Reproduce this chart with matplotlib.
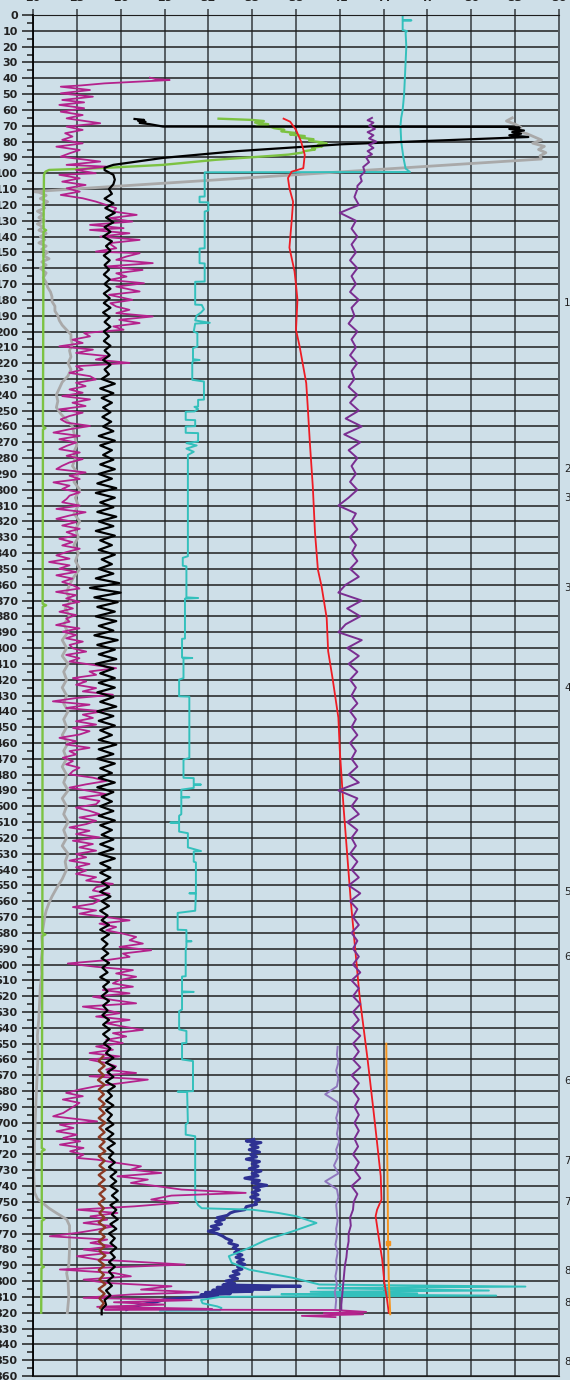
import numpy as np  # Importa numpy para manejar arreglos
import matplotlib  # Importa matplotlib
matplotlib.use("Agg")  # Sin pantalla, solo guardar archivo
import matplotlib.pyplot as plt  # Importa pyplot para graficar

# Marcas del eje superior (escala 20-56) y etiquetas laterales de la derecha
x_ticks = [20, 23, 26, 29, 32, 35, 38, 41, 44, 47, 50, 53, 56]
marca_prof = [181.7, 287, 305, 362, 425, 554.4, 595.3, 673.4, 724, 749.8, 793.4, 813.6, 851]
marca_txt = ["1", "2", "3", "3", "4", "5", "6", "6", "7", "7", "8", "8", "8"]

mag_top_prof = [39.6, 40.5, 41.1, 42.0, 43.2, 44.5, 45.3, 47.4, 49.5, 51.6, 53.7, 55.2, 56.8, 58.9, 61.1, 63.2, 65.3,
                68.4, 70.5, 72.6, 74.7, 76.8, 78.9, 81.1, 83.2, 85.3, 87.4, 89.5, 92.6, 94.7, 95.8, 97.9, 100.0,
                101.0, 103.2, 105.3, 107.4, 109.5, 111.6, 113.7, 115.8, 117.9, 120.0, 122.1, 124.2, 126.3, 128.4,
                130.5, 132.6, 134.7, 135.8, 137.9, 140.0, 142.1, 144.2, 147.4, 149.5, 150.5, 152.6, 154.7, 156.8,
                158.9, 161.1, 163.2, 165.3, 167.4, 169.5, 171.6, 174.7, 176.8]
mag_top_val = [28.0, 28.4, 29.35, 27.5, 24.9, 23.3, 21.9, 23.9, 21.9, 24.1, 22.0, 23.5, 21.8, 23.5, 21.9, 23.4, 22.3,
               24.6, 22.3, 23.4, 22.2, 22.7, 22.0, 23.4, 21.6, 23.2, 22.5, 21.9, 24.6, 22.3, 25.0, 22.95, 24.3,
               21.8, 23.2, 22.0, 23.6, 22.3, 23.2, 21.9, 23.4, 24.3, 25.0, 25.7, 25.5, 27.1, 25.2,
               26.8, 23.9, 26.2, 23.9, 26.6, 24.6, 27.3, 25.2, 25.7, 24.3, 27.3, 26.4, 25.7, 28.2,
               25.0, 27.5, 25.7, 26.4, 25.2, 27.6, 25.7, 27.3, 25.2]
# tramo central, muestreado cada ~2.1 m entre 180 y 687.4
mag_mid_val = [26.8, 25.3, 25.7, 26.6, 25.7, 28.2, 25.9, 27.3, 25.5, 26.2,
               23.5, 23.9, 22.7, 23.4, 21.8, 24.1, 22.95, 25.2, 24.3, 26.6,
               22.95, 23.4, 22.5, 23.9, 24.3, 22.95, 23.6, 22.5, 23.4, 22.0,
               23.9, 22.7, 23.6, 21.8, 23.4, 22.5, 21.9, 22.3, 23.9, 22.5,
               21.4, 23.2, 21.8, 22.95, 22.3, 21.8, 23.2, 22.3, 23.4, 22.5,
               22.0, 21.6, 23.6, 22.5, 23.2, 21.4, 22.5, 22.0, 23.2, 22.5,
               22.3, 22.0, 23.2, 21.6, 23.6, 22.5, 21.6, 22.95, 22.0, 23.2,
               22.3, 22.95, 21.8, 22.7, 22.0, 23.2, 22.3, 21.6, 22.5, 21.1,
               22.5, 21.8, 22.95, 21.6, 22.7, 22.0,
               22.73, 23.18, 21.58, 22.95, 22.27, 23.18, 22.04, 22.73, 21.81, 22.95,
               22.27, 22.5, 21.58, 23.18, 22.04, 22.95, 22.27, 23.41, 22.5, 22.73,
               23.64, 22.27, 23.18, 22.5, 24.1, 25.69, 23.87, 24.32, 22.73, 23.64,
               22.95, 24.32, 23.41, 25.47, 22.95, 21.36, 23.87, 22.27, 24.78, 23.41,
               24.1, 22.95, 24.32, 22.73, 23.87, 23.18, 21.81, 22.95, 22.27, 23.87,
               22.5, 22.95, 22.04, 22.73, 22.27, 23.18, 22.73, 22.5, 24.1, 25.01,
               23.64, 22.5, 23.87, 25.01, 23.18, 24.55, 24.32, 22.95, 23.87, 24.55,
               23.18, 24.32, 23.64, 22.5, 23.87, 22.95, 24.55, 22.73, 24.1, 23.18,
               24.32, 22.95, 23.64, 22.5, 23.87, 22.95,
               23.64, 22.95, 24.32, 23.64, 25.47, 24.32, 24.1, 25.24, 23.87, 24.55,
               24.1, 22.73, 24.32, 23.18, 25.01, 26.61, 24.55, 25.69, 25.01, 26.15,
               27.06, 26.61, 27.52, 25.92, 28.09, 26.15, 26.61, 25.01, 22.38, 24.32,
               26.84, 25.69, 27.06, 25.92, 25.47, 26.84, 24.78, 26.61, 24.1, 25.47,
               27.06, 23.41, 25.01, 25.92, 24.32, 26.61, 25.01, 26.15, 27.52, 25.47,
               26.38, 25.01, 26.15, 24.32, 25.47, 23.87, 25.92, 23.87, 25.01, 25.69,
               25.01, 27.06, 23.87, 27.86, 26.15, 24.32, 23.18, 22.27, 23.41, 22.04,
               23.18]
mag_bot_prof = [693.8, 695.9, 699.1, 701.2, 703.3, 705.4, 707.5, 709.6, 711.7, 713.8,
                715.9, 718.0, 720.1, 722.2, 723.3, 725.4, 727.5, 729.6, 731.7, 733.8,
                735.9, 738.0, 740.1, 742.2, 744.3, 746.0, 748.5, 750.6, 752.8, 754.9,
                757.0, 759.1, 761.2, 763.3, 765.4, 767.5, 769.6, 771.7, 773.8, 775.9,
                778.0, 780.1, 782.2, 784.3, 786.4, 789.6, 791.7, 792.7, 794.9, 797.0,
                799.1, 801.2, 803.3, 805.4, 807.1, 808.5, 810.6, 812.1, 813.4, 814.9,
                816.3, 817.6, 818.0, 818.3, 819.5, 820.3, 821.0, 822.0, 822.8]
mag_bot_val = [22.07, 21.38, 24.39, 21.84, 22.77, 21.61, 23.0, 22.07, 23.23, 21.84,
               23.46, 22.54, 23.46, 23.0, 24.39, 25.78, 27.39, 26.7, 28.78, 25.78,
               27.86, 26.7, 28.55, 30.17, 34.56, 29.48, 28.09, 29.94, 26.93, 23.0,
               25.78, 23.93, 25.08, 23.46, 25.54, 24.39, 23.0, 21.15, 25.08, 23.93,
               25.54, 23.46, 25.31, 23.0, 24.39, 30.4, 24.39, 21.84, 25.54, 26.7,
               23.46, 25.08, 29.48, 27.39, 31.33, 26.7, 23.46, 30.86, 25.54, 29.01,
               24.39, 32.25, 24.9, 40.7, 42.8, 39.9, 42.6, 38.4, 40.7]

# Curva negra: tramo superior y tramo vertical (cada 3 m desde 98)
negro_top_prof = [65.7, 66.3, 66.9, 67.5, 68.2, 69.0, 70.5, 70.7, 71.2, 72.0, 73.0, 74.0, 75.0, 76.0,
                  77.1, 81.7, 86.0, 90.3, 94.7, 96.5]
negro_top_val = [26.95, 27.6, 27.2, 27.7, 27.3, 28.0, 28.9, 52.5, 53.3, 52.6, 53.6, 52.8, 53.4, 52.6,
                 53.9, 41.1, 34.0, 28.9, 25.5, 24.9]
negro_val = [24.9, 25.5, 25.6, 25.5, 25.2,
             25.4, 24.9, 25.5, 24.95, 25.6, 25.0, 25.5, 24.9, 25.3, 24.8,
             25.4, 25.0, 25.3, 24.85, 25.25, 24.9, 25.2, 24.85, 25.25, 24.9,
             25.3, 24.85, 25.25,
             24.85, 25.3, 24.8, 25.25, 24.9, 25.3, 24.85, 25.2, 24.85, 25.3,
             24.9, 25.25, 24.8, 25.3, 24.9, 25.2, 24.7, 25.6, 24.6, 25.5,
             24.7, 25.4, 24.8, 25.3, 24.75, 25.35, 24.8, 25.5, 24.5, 25.6,
             24.6, 25.4, 24.8,
             25.5, 24.6, 25.6, 24.5, 25.4, 24.4, 25.7, 24.3, 25.6, 24.6,
             25.5, 24.4, 25.7, 24.5, 25.5, 24.3, 25.6, 24.6, 25.4, 24.5,
             25.6, 24.7, 25.4, 24.5, 25.5, 24.3, 25.9, 23.9, 26.0, 24.2,
             25.8, 24.4, 25.6, 24.3, 25.7, 24.5, 25.5, 24.2, 25.8, 24.4,
             25.6, 24.5, 25.7, 24.3, 25.5, 24.6, 25.6,
             24.5, 25.6, 24.4, 25.5, 24.6, 25.7, 24.4, 25.5, 24.5, 25.6,
             24.6, 25.4, 24.5, 25.7, 24.5, 25.5, 24.4, 25.6, 24.6, 25.4,
             24.5, 25.6, 24.4, 25.5, 24.7, 25.4, 24.6, 25.5, 24.5, 25.6,
             24.6, 25.4, 24.7, 25.5, 24.6, 25.5, 24.5, 25.6, 24.6, 25.3,
             24.6, 25.3, 24.7, 25.2, 24.6, 25.3, 24.7, 25.2, 24.6, 25.1,
             24.7, 25.2, 24.6, 25.2, 24.7, 25.1, 24.75, 25.15, 24.7, 25.2,
             24.75, 25.1, 24.6, 25.2, 24.8, 25.1, 24.7, 25.2, 24.8, 25.1,
             24.75, 25.2, 24.8, 25.25, 24.8, 25.2, 24.85,
             25.3, 25.0, 25.5, 25.0, 25.6, 25.1, 25.5, 25.0, 25.6, 25.1,
             25.4, 25.0, 25.5, 25.0, 25.4, 25.1, 25.5, 25.0, 25.5, 25.1,
             25.6, 25.1, 25.5, 25.2, 25.6, 25.2, 25.7, 25.3, 25.7, 25.3,
             25.8, 25.4, 25.8, 25.3, 25.7, 25.4, 25.8, 25.3, 25.7, 25.2,
             25.6, 25.3, 25.7, 25.3, 25.6, 25.2, 25.6, 25.2, 25.5, 25.1,
             25.4, 25.0, 25.3, 24.9, 25.0, 24.7, 24.7]

# Curva marrón (cada 3 m desde 658)
marron_val = [24.8, 24.5, 24.9, 24.5, 24.85, 24.45, 24.9, 24.5, 24.85, 24.5,
              24.9, 24.55, 24.9, 24.5, 24.95, 24.55, 24.9, 24.5, 24.9, 24.55,
              24.95, 24.5, 24.9, 24.55, 24.95, 24.5, 24.9, 24.5, 24.95, 24.55,
              24.9, 24.5, 24.85, 24.55, 24.9, 24.5, 24.95, 24.55, 24.9, 24.5,
              24.9, 24.55, 24.95, 24.5, 24.9, 24.5, 24.85, 24.55, 24.95, 24.5,
              24.9, 24.55, 24.85, 24.6]

# Curva gris
gris_top_prof = [65, 67, 69, 71, 73, 75, 77, 79, 81, 83, 85, 87, 89, 91, 111.6,
                 112, 114, 116, 118, 120, 122, 124, 126, 128, 130, 132, 134, 136, 138, 140,
                 142, 144, 146, 148, 150, 152, 154, 156, 158, 160,
                 163, 166, 169, 172, 175, 178, 181, 184, 187, 190, 193, 196, 199, 202, 205, 208,
                 212, 216, 220, 224, 228, 232, 236, 240, 244, 248, 252, 256, 260, 264, 268, 272, 276, 280]
gris_top_val = [52.8, 52.4, 53.0, 53.4, 52.9, 53.8, 54.3, 54.8, 54.2, 55.0, 54.6, 55.1, 54.7, 54.8, 20.0,
                20.4, 20.9, 20.5, 21.0, 20.6, 20.8, 20.3, 20.7, 20.4, 20.8, 20.3, 20.7, 20.4, 20.9, 20.5,
                20.8, 20.4, 20.9, 20.6, 21.0, 20.7, 21.1, 20.6, 20.9, 20.5,
                20.9, 20.7, 20.9, 21.0, 21.2, 21.3, 21.3, 21.5, 21.5, 21.7, 21.8, 22.0, 22.3, 22.6, 22.6, 22.7,
                22.5, 22.6, 22.4, 22.6, 22.4, 22.0, 21.8, 21.6, 21.7, 21.6, 21.9, 22.3, 22.7, 22.8, 22.9, 23.0,
                22.8, 22.9]
gris_mid_val = [22.7, 23.1, 22.8, 23.2, 22.9, 23.1, 22.8, 23.2, 22.9, 23.1,
                22.8, 23.1, 22.9, 23.2, 22.8, 22.5, 22.3, 22.6, 22.2, 22.5,
                22.1, 22.4, 22.0, 22.3, 22.0, 22.4, 22.1, 22.3, 22.0, 22.3,
                22.1, 22.4, 22.1, 22.3, 22.0, 22.4, 22.1, 22.3, 22.0, 22.3,
                22.1, 22.4, 22.0, 22.3, 22.1, 22.4, 22.1, 22.3, 22.0, 22.4,
                22.2, 22.3]
gris_bot_prof = [546, 552, 557, 561, 566, 570, 576, 582, 590, 598, 606, 614, 624, 634, 645, 656, 666, 676,
                 687, 700, 712, 722, 732, 744, 748, 751, 754, 757, 761, 765, 770, 780, 790, 795, 800, 810,
                 815, 820]
gris_bot_val = [22.0, 21.6, 21.3, 21.1, 20.9, 20.8, 20.7, 20.6, 20.65, 20.55, 20.6, 20.5, 20.45, 20.4, 20.3,
                20.35, 20.3, 20.25, 20.2, 20.15, 20.1, 20.1, 20.05, 20.1, 20.3, 20.7, 21.1, 21.6, 22.3, 22.5,
                22.5, 22.5, 22.45, 22.3, 22.4, 22.45, 22.4, 22.35]

# Curva verde
verde_prof = [65.5, 66.3, 67.0, 68.0, 69.0, 70.0, 70.8, 71.5, 72.5, 73.5,
              74.5, 75.5, 76.5, 77.5, 78.5, 79.5, 80.5, 81.2, 82.0, 83.0,
              84.0, 85.0, 86.0, 87.0, 88.2, 88.9, 91.5, 94.7, 96.8, 97.9, 99.0, 101.0,
              135, 136, 137, 260, 261, 262, 372, 373, 374, 580, 581, 582,
              716, 717, 718, 760, 761, 762, 790, 791, 792, 820]
verde_val = [32.7, 35.0, 35.8, 35.2, 36.1, 35.3, 36.3, 36.5, 37.2, 37.0,
             37.9, 37.6, 38.6, 38.3, 39.2, 38.9, 39.8, 40.1, 39.5, 39.8,
             39.1, 39.3, 38.6, 38.4, 37.5, 36.5, 32.5, 28.9, 24.5, 21.1, 20.85, 20.75,
             20.72, 20.9, 20.72, 20.68, 20.85, 20.68, 20.66, 20.9, 20.66, 20.64, 20.85, 20.64,
             20.6, 20.8, 20.6, 20.6, 20.78, 20.6, 20.58, 20.75, 20.58, 20.56]

# Curva turquesa (escalones)
turq_prof = [0, 0.1, 3.2, 3.4, 3.6, 9.5, 10.2, 11, 20, 30,
             40, 50, 60, 65, 70, 80, 90, 97, 99.2, 99.4,
             114.7, 114.8, 118.3, 118.4, 123.5, 124.2, 147.4, 147.6, 156.8, 157,
             168.4, 168.6, 183, 183.2, 186, 188, 190, 193, 194.5, 195,
             200, 201, 209.5, 210.5, 217.5, 218, 218.5, 220, 230.5, 231.6,
             243, 243.2, 247.4, 247.6, 249, 250.5, 250.7, 255.8, 256, 259.8,
             260, 264, 264.2, 269.5, 270.5, 272, 274, 276, 278, 281,
             342, 343, 348, 348.4, 368, 368.4, 368.8, 394, 394.2, 406,
             406.3, 406.6, 419, 420, 430.5, 430.7, 469.5, 470.5, 482, 482.2,
             486, 486.3, 486.6, 488.4, 489.5, 494, 494.3, 494.6, 505, 506,
             510, 510.3, 510.6, 516, 517, 526, 527, 528.3, 528.6, 535,
             535.5, 554.7, 555, 555.3, 566, 567.4, 578, 578.2, 585, 585.3,
             585.6, 588.4, 590.5, 607.4, 607.6, 617, 617.3, 617.6, 628.4, 629.5,
             641, 642, 649.5, 649.7, 660, 661, 680, 680.3, 680.6, 700,
             701, 707.5, 708.5, 748.5, 752, 754, 754.9, 757, 759, 763.3,
             768.5, 773.8, 779, 784.3, 788.5, 792.8, 798, 802.2, 803.5, 804.5,
             806, 806.8, 807.8, 808.3, 809.2, 810, 812, 814, 816, 817,
             818.5, 818.7]
turq_val = [46.0, 45.3, 45.3, 45.9, 45.3, 45.3, 45.6, 45.5, 45.55, 45.5,
            45.45, 45.4, 45.3, 45.2, 45.15, 45.2, 45.35, 45.5, 45.8, 31.75,
            31.75, 31.4, 31.4, 32.0, 32.0, 31.75, 31.75, 31.4, 31.4, 31.75,
            31.75, 31.1, 31.1, 31.55, 31.7, 31.5, 31.2, 31.1, 32.1, 31.1,
            31.0, 31.25, 31.25, 30.95, 30.95, 31.4, 30.95, 30.9, 30.9, 31.7,
            31.7, 31.3, 31.3, 31.05, 31.3, 31.05, 30.45, 30.45, 31.1, 31.1,
            30.45, 30.45, 31.3, 31.3, 30.5, 31.2, 30.5, 31.0, 30.6, 30.6,
            30.6, 30.25, 30.25, 30.5, 30.5, 31.3, 30.4, 30.4, 30.2, 30.2,
            30.9, 30.3, 30.3, 30.0, 30.0, 30.7, 30.7, 30.3, 30.3, 31.0,
            31.0, 31.5, 31.0, 31.0, 30.15, 30.15, 30.7, 30.15, 30.15, 30.0,
            30.0, 29.4, 30.0, 30.0, 30.6, 30.6, 31.0, 31.5, 31.0, 31.0,
            31.15, 31.15, 30.7, 31.15, 31.1, 29.9, 29.9, 30.5, 30.5, 30.85,
            30.5, 30.5, 30.45, 30.45, 30.2, 30.2, 31.0, 30.2, 30.2, 30.0,
            30.0, 30.5, 30.5, 30.2, 30.2, 30.95, 30.95, 29.9, 30.55, 30.6,
            30.45, 30.45, 31.1, 31.1, 31.3, 31.55, 35.0, 36.8, 38.0, 39.4,
            37.8, 36.0, 34.8, 33.4, 33.6, 34.8, 37.8, 39.6, 53.7, 39.5,
            51.2, 39.0, 46.3, 37.0, 51.7, 32.8, 31.5, 31.6, 32.6, 32.9,
            32.8, 28.7]

# Curva azul (fondo del pozo)
azul_prof = [710.5, 711.5, 712.5, 714, 715.5, 717, 718.5, 720, 721.5, 723,
             724.5, 726, 727.5, 729, 730.5, 732, 733.5, 735, 736.5, 738,
             739.5, 741, 742.5, 744, 745.5, 747, 748.5, 750, 751.5, 753,
             754.9, 756, 757, 758.5, 760, 761, 762.5, 764, 765.5, 767,
             768.5, 770, 771.7, 773, 774.5, 776, 777.5, 779, 780.5, 782,
             783.5, 785, 786.5, 788, 789.5, 791, 792.5, 794, 795.5, 797,
             798.5, 800, 801.5, 802.5, 803.3, 804, 805, 805.8, 806.5, 807.2,
             808, 808.7, 809.5, 810.5, 811.7, 813, 814, 815, 816, 817, 818]
azul_val = [35.1, 34.6, 35.6, 34.9, 35.4, 34.8, 35.5, 34.9, 35.3, 34.6,
            35.5, 35.0, 35.4, 34.8, 35.6, 35.0, 35.4, 34.5, 35.5, 35.0,
            36.0, 35.1, 35.5, 35.0, 35.4, 34.9, 35.5, 35.2, 35.3, 34.6,
            34.5, 33.8, 33.5, 33.3, 32.6, 33.1, 32.5, 32.9, 32.2, 32.7,
            32.0, 32.6, 33.0, 33.2, 33.6, 33.4, 34.0, 33.7, 34.1, 33.8,
            34.3, 33.9, 34.4, 34.0, 34.5, 34.0, 34.3, 33.7, 34.1, 33.5,
            34.0, 33.2, 33.8, 33.0, 38.3, 32.6, 36.2, 32.3, 35.0, 31.8,
            33.5, 31.5, 32.6, 30.5, 29.0, 28.5, 27.9, 27.4, 27.0, 26.35, 26.4]

# Curva roja
rojo_prof = [65.5, 67.4, 72.6, 80, 88.4, 96.8, 99, 103, 109.5, 118,
             130.5, 147, 162, 170.5, 180, 199, 209.5, 232.6, 247, 270.5,
             298, 327, 350.5, 361, 381, 402, 419, 444, 465, 500,
             560, 620, 660, 692, 712.7, 733.8, 748.5, 754.9, 759, 771.7,
             786.4, 801, 809.6, 820]
rojo_val = [37.15, 37.6, 38.0, 38.35, 38.6, 38.5, 37.7, 37.45, 37.55, 37.8,
            37.7, 37.55, 37.9, 38.0, 38.1, 38.0, 38.25, 38.7, 38.8, 38.95,
            39.15, 39.3, 39.5, 39.75, 40.1, 40.2, 40.5, 40.9, 41.0, 41.25,
            41.75, 42.35, 42.9, 43.3, 43.55, 43.8, 43.85, 43.55, 43.45, 43.65,
            43.9, 44.05, 44.2, 44.35]

# Curva morada: tramo superior, central (cada 5 m desde 110) e inferior
morado_top_prof = [65, 66.5, 68, 70, 72, 74, 76, 78, 80, 82, 84, 86, 88, 90, 93, 96, 99, 102, 105, 108]
morado_top_val = [43.2, 42.9, 43.3, 43.0, 43.4, 42.9, 43.3, 43.0, 43.5, 43.0, 43.3, 42.9, 43.2, 42.8,
                  43.0, 42.6, 42.7, 42.4, 42.5, 42.2]
morado_mid_val = [42.2, 42.0, 42.3, 41.0, 42.1, 41.8, 42.2, 41.8, 42.1, 41.7,
                  42.2, 41.8, 42.1, 41.7, 42.3, 41.8, 42.0, 41.6, 42.2, 41.8,
                  42.1, 41.7, 42.2, 41.8, 42.0, 41.6, 42.2, 41.7, 42.3, 41.4,
                  42.5, 41.3, 42.4, 41.6, 42.2, 41.8, 42.1, 41.7, 42.2, 41.6,
                  40.9, 42.1, 41.8, 42.2, 41.7, 42.1, 41.8, 42.2, 41.7, 42.3,
                  41.4, 40.9, 42.5, 41.5, 42.4, 41.4, 40.9, 42.5, 41.5, 42.3,
                  41.6, 42.2, 41.7, 42.1, 41.8, 42.2, 41.7, 42.1, 41.8, 42.2,
                  41.7, 42.1, 41.8, 42.2, 41.6, 42.3, 40.9, 42.2, 41.8, 42.3,
                  41.5, 42.2, 41.8, 42.1, 41.7, 42.2, 41.8, 42.3, 41.6, 42.4,
                  41.7, 42.2, 41.9, 42.3, 41.8, 42.2, 41.9, 42.3, 41.9, 42.4,
                  41.8, 42.3, 41.9, 42.4, 41.9, 42.3, 41.8, 42.4, 41.9, 42.3,
                  41.9, 42.4, 41.8, 42.3, 41.9, 42.3, 42.0]
morado_bot_prof = [695, 700, 705, 710, 715, 720, 725, 730, 735, 740, 745, 750, 755, 760, 765, 770, 775,
                   780, 785, 790, 795, 800, 805, 810, 815, 818]
morado_bot_val = [42.3, 42.0, 42.3, 42.0, 42.25, 41.9, 42.3, 42.0, 42.4, 41.8, 42.2, 41.95, 41.9, 41.7,
                  41.75, 41.6, 41.6, 41.5, 41.45, 41.35, 41.3, 41.25, 41.2, 41.15, 41.1, 41.1]

# Curva lila (cada 5 m desde 652) y naranja
lila_val = [40.85, 40.8, 40.9, 40.75, 40.9, 40.8, 40.0, 40.85, 40.9, 40.75,
            40.9, 40.8, 40.95, 40.75, 40.85, 40.6, 40.9, 40.0, 40.8, 40.9,
            40.75, 40.8, 40.85, 40.75, 40.8, 40.7, 40.85, 40.75, 40.8, 40.7,
            40.8, 40.65, 40.75, 40.7]
naranja_prof = [650, 700, 750, 776, 800, 821]
naranja_val = [44.18, 44.22, 44.28, 44.3, 44.35, 44.45]

# Profundidades de los tramos muestreados con paso fijo
mag_prof = mag_top_prof + list(np.linspace(180, 687.4, len(mag_mid_val))) + mag_bot_prof
mag_val = mag_top_val + mag_mid_val + mag_bot_val
negro_prof = negro_top_prof + list(98 + 3 * np.arange(len(negro_val)))
negro_v = negro_top_val + negro_val
marron_prof = 658 + 3 * np.arange(len(marron_val))
gris_prof = gris_top_prof + list(285 + 5 * np.arange(len(gris_mid_val))) + gris_bot_prof
gris_val = gris_top_val + gris_mid_val + gris_bot_val
morado_prof = morado_top_prof + list(110 + 5 * np.arange(len(morado_mid_val))) + morado_bot_prof
morado_val = morado_top_val + morado_mid_val + morado_bot_val
lila_prof = 652 + 5 * np.arange(len(lila_val))

fondo = "#cedfe8"  # Color de fondo azul claro
gris_rejilla = "#555d62"

fig = plt.figure(figsize=(5.7, 13.8), dpi=100, facecolor=fondo)
ax = fig.add_axes([33 / 570, 4 / 1380, 526 / 570, 1361 / 1380], facecolor=fondo)

# Dibujar cada curva
ax.plot(gris_val, gris_prof, color="#a9a9a9", lw=2.0)
ax.plot(verde_val, verde_prof, color="#7cc242", lw=1.7)
ax.plot(azul_val, azul_prof, color="#2e3192", lw=2.2)
ax.plot(turq_val, turq_prof, color="#33c0bc", lw=1.4)
ax.plot(mag_val, mag_prof, color="#b4228c", lw=1.3)
ax.plot(negro_v, negro_prof, color="black", lw=1.6)
ax.plot(marron_val, marron_prof, color="#8b3a24", lw=1.7)
ax.plot(rojo_val, rojo_prof, color="#ee1c24", lw=1.3)
ax.plot(morado_val, morado_prof, color="#7a2e91", lw=1.4)
ax.plot(lila_val, lila_prof, color="#8f77bd", lw=1.4)
ax.plot(naranja_val, naranja_prof, color="#f7941d", lw=1.4, marker="s", markersize=3, markevery=[3])

# Ejes y rejilla
ax.set_xlim(20, 56)
ax.set_ylim(860, 0)
ax.xaxis.tick_top()
ax.set_xticks(x_ticks)
ax.set_yticks(np.arange(0, 861, 10))
ax.set_yticks(np.arange(5, 860, 10), minor=True)
ax.set_axisbelow(True)
ax.grid(axis="x", color=gris_rejilla, lw=1.4)
ax.grid(axis="y", which="major", color="#1e1e1e", lw=1.1)
ax.tick_params(axis="x", which="major", length=4.3, width=1.4, color=gris_rejilla, pad=4.0,
               labelsize=8, labelcolor="#222222")
ax.tick_params(axis="y", which="major", length=8, width=1.1, color="#1e1e1e", pad=2.9,
               labelsize=8, labelcolor="#222222")
ax.tick_params(axis="y", which="minor", length=4.3, width=1.1, color="#1e1e1e")
for lab in ax.get_xticklabels() + ax.get_yticklabels():
    lab.set_fontweight("bold")

ax.spines["left"].set_color("black")
ax.spines["left"].set_linewidth(1.3)
ax.spines["right"].set_color(gris_rejilla)
ax.spines["right"].set_linewidth(1.4)
ax.spines["top"].set_color("#1e1e1e")
ax.spines["bottom"].set_color("#1e1e1e")

# Etiquetas laterales (quedan cortadas por el borde, como en el original)
for p, t in zip(marca_prof, marca_txt):
    ax.text(1.0095, p, t, transform=ax.get_yaxis_transform(), ha="left", va="center",
            fontsize=7.5, color="#222222", clip_on=False)

fig.savefig("out.png", dpi=100, facecolor=fondo)
